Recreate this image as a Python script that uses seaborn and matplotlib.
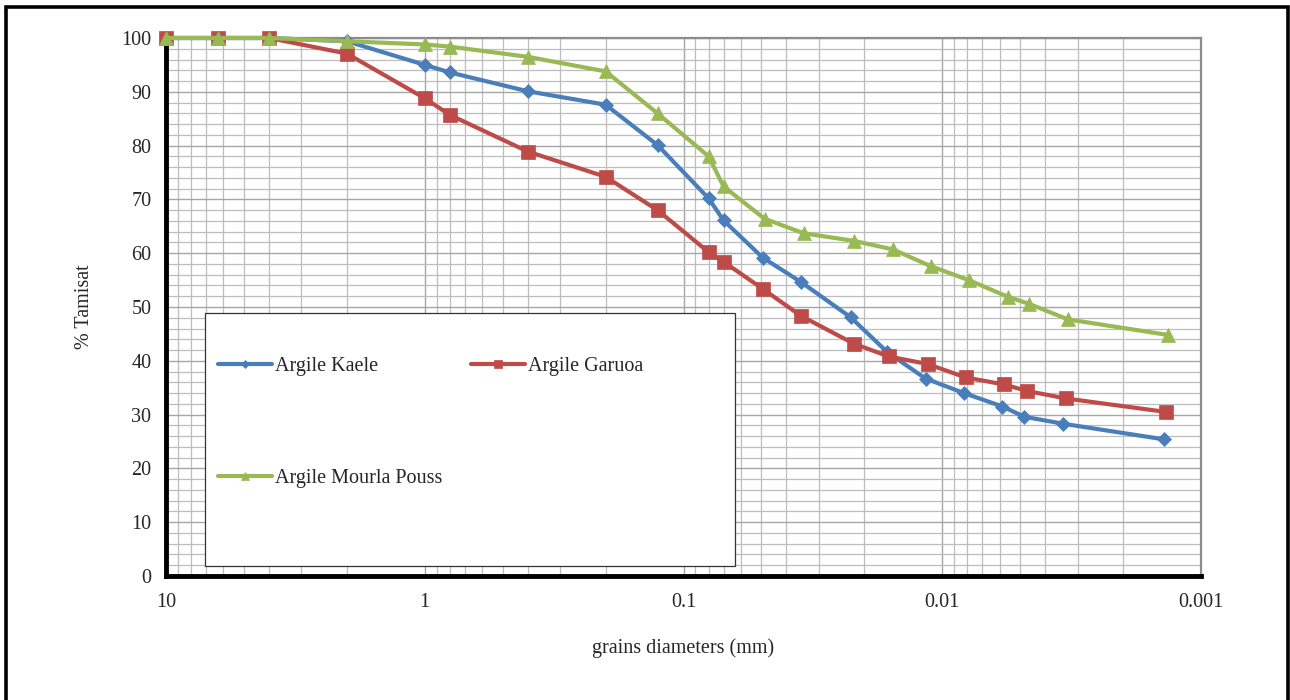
import matplotlib
matplotlib.use("Agg")
import matplotlib.pyplot as plt
import matplotlib.ticker as mticker
from matplotlib.patches import Rectangle
import numpy as np
import seaborn as sns

# ---- Data ----
kaele_d = [10, 6.3, 4, 2, 1, 0.8, 0.4, 0.2, 0.126, 0.08, 0.07, 0.0495,
           0.0353, 0.0226, 0.0163, 0.0116, 0.00824, 0.00585, 0.00482, 0.00341, 0.00139]
kaele_p = [100, 100, 100, 99.4, 95.0, 93.6, 90.1, 87.6, 80.1, 70.2, 66.1, 59.2,
           54.7, 48.1, 41.6, 36.7, 34.0, 31.5, 29.6, 28.3, 25.4]

garuoa_d = [10, 6.3, 4, 2, 1, 0.8, 0.4, 0.2, 0.126, 0.08, 0.07, 0.0495,
            0.0353, 0.0220, 0.0161, 0.0114, 0.00811, 0.00577, 0.00471, 0.00333, 0.00137]
garuoa_p = [100, 100, 100, 97.1, 88.8, 85.7, 78.9, 74.2, 68.0, 60.2, 58.4, 53.4,
            48.4, 43.2, 40.8, 39.4, 36.9, 35.6, 34.4, 33.0, 30.5]

mourla_d = [10, 6.3, 4, 2, 1, 0.8, 0.4, 0.2, 0.126, 0.08, 0.07, 0.0486,
            0.0343, 0.0220, 0.0155, 0.0111, 0.0079, 0.00558, 0.00463, 0.00327, 0.00134]
mourla_p = [100, 100, 100, 99.4, 98.8, 98.4, 96.5, 93.8, 86.0, 78.0, 72.4, 66.4,
            63.7, 62.3, 60.7, 57.6, 55.0, 51.9, 50.6, 47.7, 44.8]

x_ticks = [10, 1, 0.1, 0.01, 0.001]
x_tick_labels = ["10", "1", "0.1", "0.01", "0.001"]
y_ticks = list(range(0, 101, 10))

series = [
    ("Argile Kaele", kaele_d, kaele_p, "#4A7EBB", "D", 6.8),
    ("Argile Garuoa", garuoa_d, garuoa_p, "#BE4B48", "s", 9.5),
    ("Argile Mourla Pouss", mourla_d, mourla_p, "#98B954", "^", 10.5),
]

# ---- Figure ----
sns.set_style("white")
plt.rcParams["font.family"] = ["Liberation Serif", "DejaVu Serif"]

fig = plt.figure(figsize=(12.9, 7), dpi=100)
W, H = 1290, 700
ax = fig.add_axes([166 / W, 1 - 576 / H, (1201 - 166) / W, (576 - 38) / H])

for i, (name, d, p, col, mk, ms) in enumerate(series):
    sns.lineplot(x=d, y=p, ax=ax, color=col, linewidth=3, marker=mk,
                 markersize=ms, markeredgecolor=col, markeredgewidth=0.5,
                 sort=False, label=name, zorder=5 + i * 0.1, clip_on=False)

handles, labels = ax.get_legend_handles_labels()
if ax.get_legend() is not None:
    ax.get_legend().remove()

ax.set_xscale("log")
ax.set_xlim(10, 0.001)
ax.set_ylim(0, 100)
ax.set_xticks(x_ticks)
ax.set_xticklabels(x_tick_labels)
ax.xaxis.set_minor_locator(mticker.LogLocator(base=10, subs=np.arange(2, 10)))
ax.xaxis.set_minor_formatter(mticker.NullFormatter())
ax.set_yticks(y_ticks)
ax.yaxis.set_minor_locator(mticker.MultipleLocator(2))

ax.grid(True, which="major", color="#A6A6A6", linewidth=1.0)
ax.grid(True, which="minor", color="#BDBDBD", linewidth=0.9)
ax.set_axisbelow(True)

for s in ["left", "bottom"]:
    ax.spines[s].set_color("black")
    ax.spines[s].set_linewidth(3.5)
    ax.spines[s].set_zorder(4)
for s in ["top", "right"]:
    ax.spines[s].set_color("#8C8C8C")
    ax.spines[s].set_linewidth(1.6)

ax.tick_params(axis="y", which="major", direction="inout", length=9, width=2.2,
               color="black", labelsize=14.5, pad=6)
ax.tick_params(axis="x", which="major", direction="out", length=4, width=2.2,
               color="black", labelsize=14.5, pad=8)
ax.tick_params(which="minor", length=0)

ax.set_xlabel("grains diameters (mm)", fontsize=14.5, labelpad=19)
ax.set_ylabel("% Tamisat", fontsize=14.5, labelpad=20)

# ---- Legend (box drawn separately like the Excel legend area) ----
fig.patches.append(Rectangle((205 / W, 1 - 566 / H), 530 / W, 253 / H,
                             transform=fig.transFigure, facecolor="white",
                             edgecolor="#333333", linewidth=0.9, zorder=5))
order = [0, 2, 1]
leg = fig.legend([handles[i] for i in order], [labels[i] for i in order],
                 loc="upper left", bbox_to_anchor=(218 / W, 1 - 357 / H),
                 ncol=2, frameon=False, fontsize=14.5, borderpad=0,
                 borderaxespad=0, handlelength=2.7, handletextpad=0.15,
                 labelspacing=4.6, columnspacing=1.4, markerscale=0.6)
leg.set_zorder(6)

# outer chart border
fig.patches.append(Rectangle((6 / W, -0.05), 1282 / W, 1.05 - 7 / H,
                             transform=fig.transFigure, fill=False,
                             edgecolor="black", linewidth=2.6, zorder=10))

fig.savefig("out.png", dpi=100)
